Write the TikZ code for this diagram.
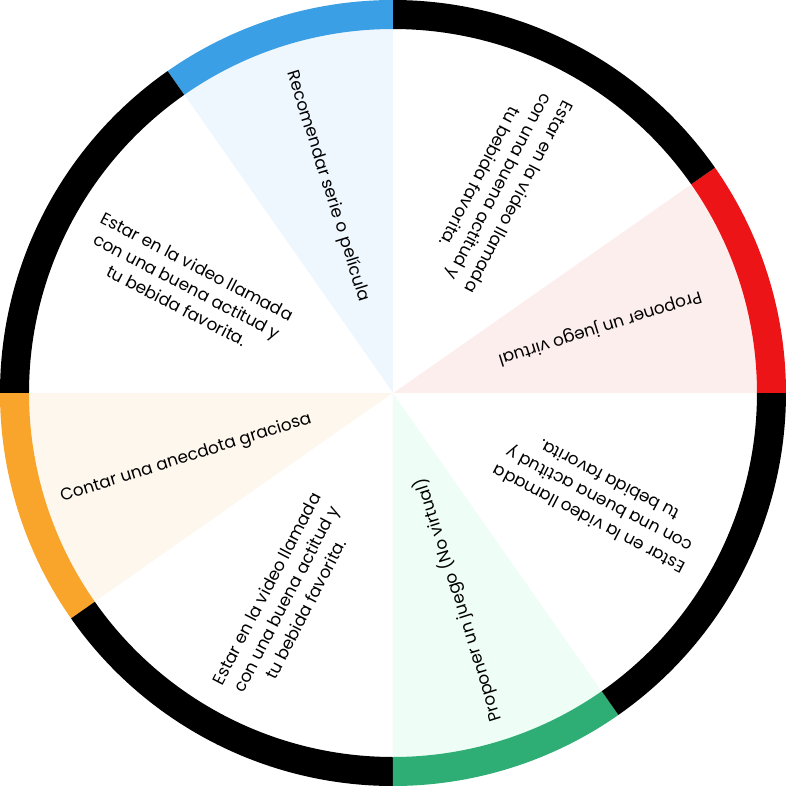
\documentclass[tikz,border=0pt]{standalone}
\usepackage{fontspec}
\setmainfont{Poppins}
\usepackage{xcolor}
\definecolor{wred}{HTML}{EC1416}
\definecolor{wblue}{HTML}{3B9FE5}
\definecolor{worange}{HTML}{F9A52C}
\definecolor{wgreen}{HTML}{2EAE74}
\definecolor{pred}{HTML}{FDEEEE}
\definecolor{pblue}{HTML}{EEF6FE}
\definecolor{porange}{HTML}{FDF7EE}
\definecolor{pgreen}{HTML}{EEFDF5}
\tikzset{
  lbl/.style={align=center,text=black,inner sep=0pt,
              font=\fontsize{9.6}{12.5}\selectfont},
}

\begin{document}
\begin{tikzpicture}
\useasboundingbox (-7.86,-7.86) rectangle (7.86,7.86);

% sectors and rim
\foreach \a/\b/\rim/\fil in {0/35/wred/pred, 35/90/black/white,
    90/125/wblue/pblue, 125/180/black/white, 180/215/worange/porange,
    215/270/black/white, 270/305/wgreen/pgreen, 305/360/black/white}
{
  \fill[\fil] (0,0) -- (\a:7.3) arc[start angle=\a,end angle=\b,radius=7.3] -- cycle;
  \fill[\rim] (\a:7.86) arc[start angle=\a,end angle=\b,radius=7.86]
    -- (\b:7.28) arc[start angle=\b,end angle=\a,radius=7.28] -- cycle;
}

% labels, read from the rim inwards
\node[lbl,rotate=197.5] (juegovirtual) at (17.5:4.34) {Proponer un juego virtual};
\node[lbl,rotate=242.5] (videoA) at (62.5:4.64)
  {Estar en la video llamada\\con una buena actitud y\\tu bebida favorita.};
\node[lbl,rotate=287.5] (serie) at (107.5:4.34) {Recomendar serie o película};
\node[lbl,rotate=332.5] (videoB) at (152.5:4.64)
  {Estar en la video llamada\\con una buena actitud y\\tu bebida favorita.};
\node[lbl,rotate=17.5] (anecdota) at (197.5:4.34) {Contar una anecdota graciosa};
\node[lbl,rotate=62.5] (videoC) at (242.5:4.64)
  {Estar en la video llamada\\con una buena actitud y\\tu bebida favorita.};
\node[lbl,rotate=107.5] (juegoreal) at (287.5:4.34) {Proponer un juego (No virtual)};
\node[lbl,rotate=152.5] (videoD) at (332.5:4.64)
  {Estar en la video llamada\\con una buena actitud y\\tu bebida favorita.};
\end{tikzpicture}
\end{document}
